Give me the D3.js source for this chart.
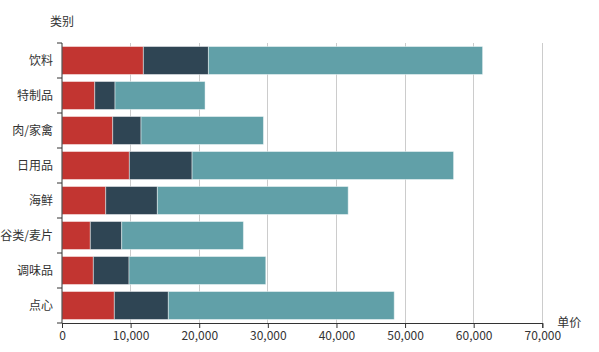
<!DOCTYPE html>
<html><head><meta charset="utf-8">
<script src="https://cdn.jsdelivr.net/npm/d3@7"></script>
<style>body{margin:0;background:#fff}text{font-family:"Noto Sans CJK SC","Noto Sans",sans-serif}</style>
</head><body><svg id="c" width="599" height="352"></svg>
<script>
const categories = ["饮料","特制品","肉/家禽","日用品","海鲜","谷类/麦片","调味品","点心"];
const seriesA = [11860, 4770, 7390, 9820, 6370, 4130, 4570, 7630];
const seriesB = [9480, 2960, 4130, 9140, 7530, 4570, 5200, 7870];
const seriesC = [39960, 13120, 17840, 38110, 27810, 17740, 19930, 32920];
const xTicks = [0,10000,20000,30000,40000,50000,60000,70000];
const colors = ["#c23531","#2f4554","#61a0a8"];
const xName = "单价", yName = "类别";

const svg = d3.select("#c");
const L = 62, R = 542.3, T = 43, B = 323;
const x = d3.scaleLinear().domain([0,70000]).range([L,R]);
const y = d3.scaleBand().domain(categories).range([T,B]).paddingInner(0.2).paddingOuter(0.1);

// grid
svg.append("g").selectAll("line").data(xTicks.slice(1)).join("line")
  .attr("x1",d=>x(d)).attr("x2",d=>x(d)).attr("y1",T).attr("y2",B)
  .attr("stroke","#ccc").attr("stroke-width",1).attr("shape-rendering","crispEdges");

const rows = categories.map((c,i)=>({c, v:[seriesA[i],seriesB[i],seriesC[i]]}));
const stackData = categories.map((c,i)=>({cat:c, a:seriesA[i], b:seriesB[i], c2:seriesC[i]}));
const stack = d3.stack().keys(["a","b","c2"])(stackData);
svg.append("g").selectAll("g").data(stack).join("g")
  .attr("fill",(d,i)=>colors[i])
  .selectAll("rect").data(d=>d).join("rect")
  .attr("x",d=>x(d[0])).attr("width",d=>x(d[1])-x(d[0]))
  .attr("y",d=>y(d.data.cat)).attr("height",y.bandwidth())
  .attr("stroke","rgba(255,255,255,0.45)").attr("stroke-width",1);

// x axis
const xa = svg.append("g").attr("transform",`translate(0,${B})`)
  .call(d3.axisBottom(x).tickValues(xTicks).tickFormat(d3.format(",")).tickSizeOuter(0).tickSize(5));
xa.select(".domain").attr("stroke","#333");
xa.selectAll(".tick line").attr("stroke","#333");
xa.selectAll(".tick text").attr("fill","#333").attr("font-size",12).attr("dy","0.9em").attr("y",6);

// y axis
const yTickPos = d3.range(categories.length+1).map(i=>T+i*(B-T)/categories.length);
svg.append("line").attr("x1",L).attr("x2",L).attr("y1",T).attr("y2",B).attr("stroke","#333");
svg.append("g").selectAll("line").data(yTickPos).join("line")
  .attr("x1",L-5).attr("x2",L).attr("y1",d=>d).attr("y2",d=>d).attr("stroke","#333");
svg.append("g").selectAll("text").data(categories).join("text")
  .attr("x",L-9).attr("y",d=>y(d)+y.bandwidth()/2).attr("dy","0.35em")
  .attr("text-anchor","end").attr("fill","#333").attr("font-size",12).text(d=>d);

svg.append("text").attr("x",R+15).attr("y",B).attr("dy","0.35em").attr("fill","#333").attr("font-size",12).text(xName);
svg.append("text").attr("x",L).attr("y",22).attr("dy","0.35em").attr("text-anchor","middle").attr("fill","#333").attr("font-size",12).text(yName);
</script></body></html>
